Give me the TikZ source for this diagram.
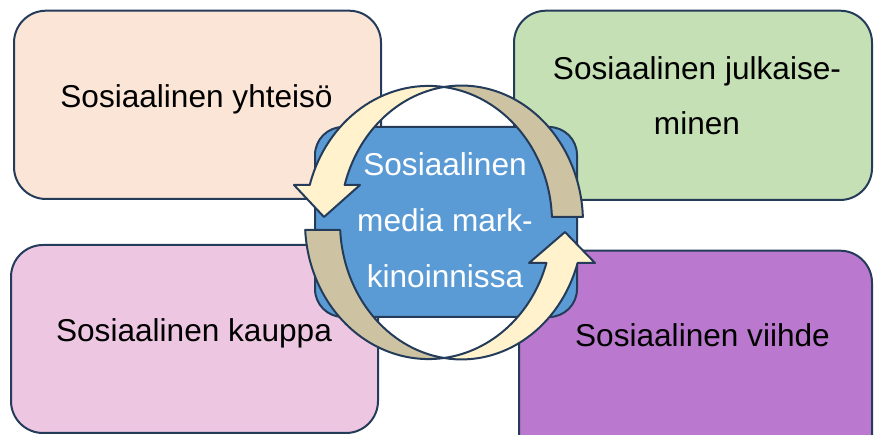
\documentclass[tikz,border=0pt]{standalone}
\usepackage{fontspec}
\setmainfont{Liberation Sans}
\definecolor{bord}{HTML}{243C5A}
\definecolor{peach}{HTML}{FBE5D6}
\definecolor{leaf}{HTML}{C5E0B4}
\definecolor{rose}{HTML}{EDC6E1}
\definecolor{lilac}{HTML}{BA78CE}
\definecolor{midblue}{HTML}{5B9BD5}
\definecolor{cream}{HTML}{FFF2CC}
\definecolor{tan}{HTML}{CDC3A2}
\tikzset{
  box/.style={draw=bord, line width=2pt, rounded corners=32pt},
  lbl/.style={anchor=base, inner sep=0pt, font=\fontsize{31.6}{55}\selectfont, align=center},
  ribbon/.style={draw=bord, line width=2pt, line join=round},
}
\begin{document}
\begin{tikzpicture}[x=1pt,y=1pt]
\useasboundingbox (0,0) rectangle (874,435);
\clip (0,0) rectangle (874,435);
% outer boxes
\path[box, fill=peach] (14,236) rectangle (381,424.3);
\path[box, fill=leaf] (514,235) rectangle (872,424.3);
\path[box, fill=rose] (11,2) rectangle (378,190);
\path[box, fill=lilac] (519,-40) rectangle (872,184.3);
\node[lbl] (tl) at (196.5,327) {Sosiaalinen yhteisö};
\node[lbl] (tr) at (697,300) {Sosiaalinen julkaise-\\minen};
\node[lbl] (bl) at (194,93.3) {Sosiaalinen kauppa};
\node[lbl] (br) at (702.5,88.3) {Sosiaalinen viihde};
% center box
\path[draw=bord, line width=2pt, fill=midblue, rounded corners=28pt] (315,118) rectangle (577,308);
% ring: arrow 1 (tail right, head left)
\path[ribbon, fill=tan] (444,348) arc[start angle=98.28, end angle=2.30, x radius=121.5, y radius=136.93]
  -- (551.9,218) arc[start angle=2.31, end angle=82.79, x radius=123.5, y radius=136.58] -- cycle;
\path[ribbon, fill=cream] (444,348) arc[start angle=82.79, end angle=164.06, x radius=123.5, y radius=136.58]
  -- (294,250) -- (324,218) -- (360,250) -- (344.64,250)
  arc[start angle=164.11, end angle=98.28, x radius=121.5, y radius=136.93] -- cycle;
% ring: arrow 2 (tail left, head right)
\path[ribbon, fill=tan] (305.2,205) arc[start angle=183.15, end angle=277.21, x radius=123.5, y radius=136.58]
  arc[start angle=261.72, end angle=183.14, x radius=121.5, y radius=136.93] -- cycle;
\path[ribbon, fill=cream] (444,77) arc[start angle=-98.28, end angle=-17.20, x radius=121.5, y radius=136.93]
  -- (595,172) -- (565,203) -- (529,172) -- (546.44,172)
  arc[start angle=-17.25, end angle=-82.79, x radius=123.5, y radius=136.58] -- cycle;
\node[lbl, font=\fontsize{31.6}{56}\selectfont, text=white] (mid) at (445,147.3) {Sosiaalinen\\media mark-\\kinoinnissa};
\end{tikzpicture}
\end{document}
